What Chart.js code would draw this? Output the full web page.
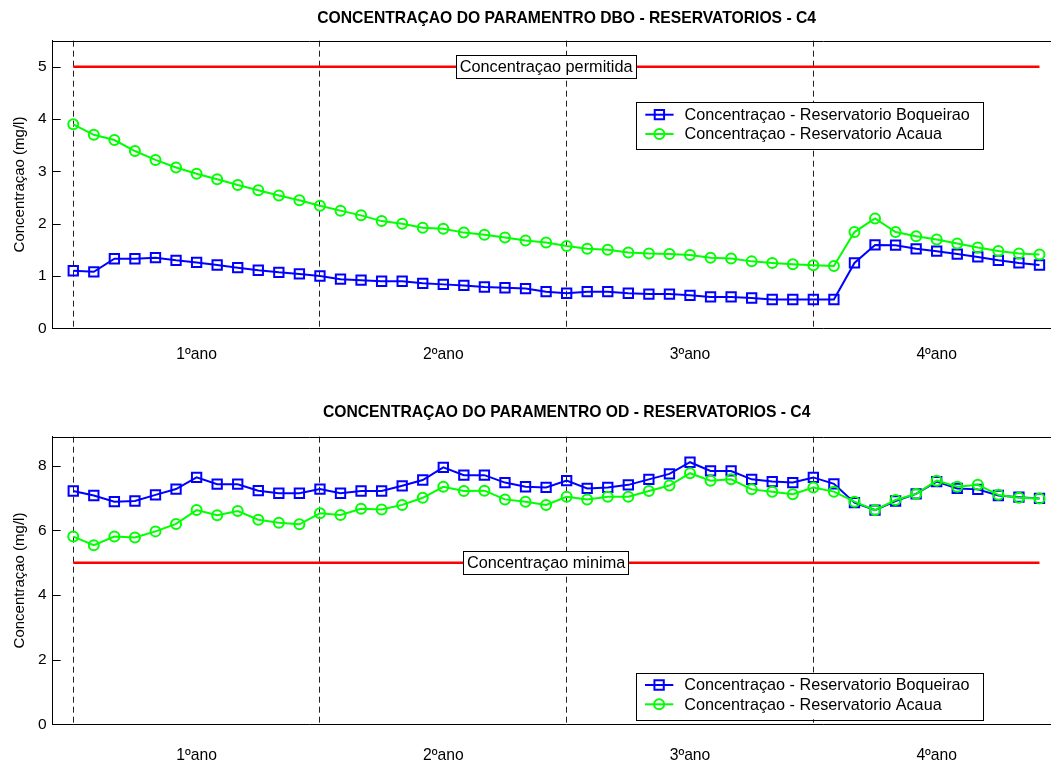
<!DOCTYPE html>
<html>
<head>
<meta charset="utf-8">
<title>Concentraçao DBO / OD - Reservatorios - C4</title>
<script src="https://cdn.jsdelivr.net/npm/chart.js@4/dist/chart.umd.min.js"></script>
<style>
  html, body { margin: 0; padding: 0; background: #fff; overflow: hidden; }
  canvas { position: absolute; left: 0; }
  #dbo { top: 0; }
  #od { top: 396px; }
</style>
</head>
<body>
<canvas id="dbo" width="1100" height="380"></canvas>
<canvas id="od" width="1100" height="380"></canvas>
<script>
// Leituras mensais (4 anos x 12 meses) - cenario C4

const dboBoqueirao = [1.10, 1.08, 1.33, 1.33, 1.35, 1.30, 1.26, 1.21, 1.16, 1.11, 1.07, 1.04,
                      1.00, 0.94, 0.92, 0.90, 0.90, 0.86, 0.84, 0.82, 0.79, 0.775, 0.76, 0.70,
                      0.67, 0.70, 0.70, 0.67, 0.655, 0.655, 0.63, 0.60, 0.60, 0.58, 0.55, 0.55,
                      0.55, 0.55, 1.25, 1.595, 1.59, 1.52, 1.475, 1.42, 1.365, 1.30, 1.25, 1.21];

const dboAcaua = [3.90, 3.70, 3.60, 3.39, 3.22, 3.075, 2.955, 2.85, 2.74, 2.64, 2.54, 2.45,
                  2.345, 2.25, 2.16, 2.05, 2.00, 1.925, 1.905, 1.83, 1.79, 1.735, 1.68, 1.64,
                  1.575, 1.52, 1.50, 1.45, 1.43, 1.42, 1.40, 1.35, 1.335, 1.28, 1.25, 1.225,
                  1.205, 1.19, 1.84, 2.10, 1.84, 1.76, 1.70, 1.62, 1.545, 1.48, 1.43, 1.41];

const odBoqueirao = [7.22, 7.08, 6.89, 6.91, 7.10, 7.28, 7.64, 7.43, 7.43, 7.23, 7.15, 7.15,
                     7.28, 7.15, 7.22, 7.22, 7.38, 7.56, 7.95, 7.71, 7.71, 7.48, 7.35, 7.33,
                     7.54, 7.30, 7.33, 7.41, 7.58, 7.75, 8.11, 7.84, 7.84, 7.58, 7.51, 7.48,
                     7.64, 7.44, 6.86, 6.63, 6.91, 7.13, 7.51, 7.30, 7.27, 7.08, 7.03, 6.99];

const odAcaua = [5.81, 5.54, 5.81, 5.78, 5.97, 6.20, 6.63, 6.47, 6.60, 6.33, 6.24, 6.19,
                 6.53, 6.48, 6.67, 6.65, 6.79, 7.01, 7.35, 7.22, 7.23, 6.96, 6.89, 6.79,
                 7.04, 6.96, 7.04, 7.04, 7.22, 7.39, 7.77, 7.54, 7.58, 7.27, 7.20, 7.12,
                 7.33, 7.20, 6.89, 6.63, 6.94, 7.13, 7.54, 7.35, 7.41, 7.10, 7.01, 6.99];

const meses = dboBoqueirao.map((_, i) => i);

// divisao entre os anos e posicao dos rotulos
const inicioAno = [0, 12, 24, 36];
const meioAno = [6, 18, 30, 42];
const nomesAno = ['1ºano', '2ºano', '3ºano', '4ºano'];

const ticksDbo = [0, 1, 2, 3, 4, 5];
const ticksOd = [0, 2, 4, 6, 8];

const limiteDbo = 5;   // concentraçao permitida
const limiteOd = 5;    // concentraçao minima

const FONTE = '"Liberation Sans", Arial, Helvetica, sans-serif';
Chart.defaults.font.family = FONTE;
Chart.defaults.color = '#000';

const pontos = serie => meses.map((m, i) => ({ x: m, y: serie[i] }));

// caixa de legenda no estilo do matlab, dentro dos eixos
const legendaCaixa = {
  id: 'legendaCaixa',
  afterDraw(chart, args, o) {
    const { ctx, chartArea: a } = chart;
    const series = chart.data.datasets.filter(d => d.naLegenda);
    ctx.save();
    ctx.font = '16.2px ' + FONTE;
    const larg = 48.6 + Math.max(...series.map(d => ctx.measureText(d.label).width)) + 13;
    const alt = 46.6;
    const x0 = a.left + o.left;
    const y0 = o.top != null ? a.top + o.top : a.bottom - o.bottom - alt;
    ctx.fillStyle = '#fff';
    ctx.fillRect(x0, y0, larg, alt);
    ctx.strokeStyle = '#000';
    ctx.lineWidth = 1;
    ctx.strokeRect(Math.round(x0) + 0.5, Math.round(y0) + 0.5, Math.round(larg), Math.round(alt));
    series.forEach((d, i) => {
      const cy = y0 + 12.3 + i * 19.3;
      ctx.strokeStyle = d.borderColor;
      ctx.lineWidth = d.borderWidth;
      ctx.beginPath();
      ctx.moveTo(x0 + 9.3, cy);
      ctx.lineTo(x0 + 37.6, cy);
      ctx.stroke();
      const cx = x0 + 23.4;
      ctx.lineWidth = d.pointBorderWidth;
      ctx.beginPath();
      if (d.pointStyle === 'rect') {
        const s = d.pointRadius * Math.SQRT1_2;
        ctx.rect(cx - s, cy - s, 2 * s, 2 * s);
      } else {
        ctx.arc(cx, cy, d.pointRadius, 0, Math.PI * 2);
      }
      ctx.stroke();
      ctx.fillStyle = '#000';
      ctx.textBaseline = 'middle';
      ctx.textAlign = 'left';
      ctx.fillText(d.label, x0 + 48.6, cy + 1);
    });
    ctx.restore();
  }
};

// texto com caixa sobre a linha de limite
const rotuloLimite = {
  id: 'rotuloLimite',
  afterDatasetsDraw(chart, args, o) {
    const { ctx, scales: { x, y } } = chart;
    const px = x.getPixelForValue(o.x);
    const py = y.getPixelForValue(o.y);
    ctx.save();
    ctx.font = '16.3px ' + FONTE;
    const w = ctx.measureText(o.texto).width + 7;
    const h = 23;
    const l = Math.round(px - w / 2) + 0.5, t = Math.round(py - h / 2) + 0.5;
    ctx.fillStyle = '#fff';
    ctx.fillRect(l, t, w, h);
    ctx.strokeStyle = '#000';
    ctx.lineWidth = 1;
    ctx.strokeRect(l, t, Math.round(w), h);
    ctx.fillStyle = '#000';
    ctx.textAlign = 'center';
    ctx.textBaseline = 'middle';
    ctx.fillText(o.texto, px, py + 1);
    ctx.restore();
  }
};

// moldura superior e marcas internas do eixo y
const moldura = {
  id: 'moldura',
  afterDraw(chart) {
    const { ctx, chartArea: a, scales: { y } } = chart;
    ctx.save();
    ctx.strokeStyle = '#000';
    ctx.lineWidth = 1;
    ctx.beginPath();
    ctx.moveTo(a.left, Math.round(a.top) + 0.5);
    ctx.lineTo(a.right, Math.round(a.top) + 0.5);
    y.ticks.forEach(t => {
      const py = Math.round(y.getPixelForValue(t.value)) + 0.5;
      ctx.moveTo(a.left, py);
      ctx.lineTo(a.left + 8, py);
      ctx.moveTo(a.right, py);
      ctx.lineTo(a.right - 8, py);
    });
    ctx.stroke();
    ctx.restore();
  }
};

function grafico(id, cfg) {
  const marcasX = [...inicioAno, ...meioAno].sort((a, b) => a - b);
  return new Chart(document.getElementById(id), {
    type: 'line',
    data: {
      datasets: [
        {
          label: 'Concentraçao - Reservatorio Boqueirao',
          data: pontos(cfg.boqueirao),
          naLegenda: true,
          borderColor: '#0000ff',
          borderWidth: 2,
          pointStyle: 'rect',
          pointRadius: 6.6,
          pointBorderWidth: 2,
          pointBorderColor: '#0000ff',
          pointBackgroundColor: 'rgba(0,0,0,0)',
          order: 2
        },
        {
          label: 'Concentraçao - Reservatorio Acaua',
          data: pontos(cfg.acaua),
          naLegenda: true,
          borderColor: '#00ff00',
          borderWidth: 2,
          pointStyle: 'circle',
          pointRadius: 5,
          pointBorderWidth: 2,
          pointBorderColor: '#00ff00',
          pointBackgroundColor: 'rgba(0,0,0,0)',
          order: 1
        },
        {
          label: cfg.textoLimite,
          data: [{ x: meses[0], y: cfg.limite }, { x: meses[meses.length - 1], y: cfg.limite }],
          borderColor: '#ff0000',
          borderWidth: 2.5,
          pointRadius: 0,
          order: 3
        }
      ]
    },
    options: {
      responsive: false,
      animation: false,
      events: [],
      layout: { padding: { left: 0, right: 19.4, top: 0, bottom: 0 } },
      plugins: {
        legend: { display: false },
        tooltip: { enabled: false },
        title: {
          display: true,
          text: cfg.titulo,
          fullSize: false,
          color: '#000',
          font: { size: 15.7, weight: 'bold' },
          padding: cfg.tituloPad
        },
        legendaCaixa: cfg.legenda,
        rotuloLimite: { x: 23, y: cfg.limite, texto: cfg.textoLimite }
      },
      scales: {
        x: {
          type: 'linear',
          min: -1,
          max: 49,
          afterBuildTicks: s => { s.ticks = marcasX.map(v => ({ value: v })); },
          afterFit: s => { s.height = 51.7; },
          grid: {
            drawTicks: false,
            lineWidth: 1,
            color: c => (c.tick && inicioAno.includes(c.tick.value)) ? '#222' : 'rgba(0,0,0,0)'
          },
          border: { color: '#000', dash: [6, 4] },
          ticks: {
            autoSkip: false,
            maxRotation: 0,
            padding: cfg.xPad,
            font: { size: 15.7 },
            callback: v => { const k = meioAno.indexOf(v); return k >= 0 ? nomesAno[k] : ''; }
          }
        },
        y: {
          min: 0,
          max: cfg.yMax,
          afterBuildTicks: s => { s.ticks = cfg.yTicks.map(v => ({ value: v })); },
          afterFit: s => { s.width = 52.7; },
          grid: { display: false, tickLength: 0 },
          border: { color: '#000' },
          ticks: { padding: 6, font: { size: 15.5 } },
          title: {
            display: true,
            text: 'Concentraçao (mg/l)',
            font: { size: 15 },
            padding: { top: 11, bottom: 0 }
          }
        }
      }
    },
    plugins: [moldura, rotuloLimite, legendaCaixa]
  });
}

grafico('dbo', {
  titulo: 'CONCENTRAÇAO DO PARAMENTRO DBO - RESERVATORIOS - C4',
  tituloPad: { top: 9.6, bottom: 12.26 },
  boqueirao: dboBoqueirao,
  acaua: dboAcaua,
  limite: limiteDbo,
  textoLimite: 'Concentraçao permitida',
  yMax: 5.5,
  yTicks: ticksDbo,
  xPad: 16.5,
  legenda: { left: 583.3, top: 61.7 }
});

grafico('od', {
  titulo: 'CONCENTRAÇAO DO PARAMENTRO OD - RESERVATORIOS - C4',
  tituloPad: { top: 7.4, bottom: 14.46 },
  boqueirao: odBoqueirao,
  acaua: odAcaua,
  limite: limiteOd,
  textoLimite: 'Concentraçao minima',
  yMax: 8.9,
  yTicks: ticksOd,
  xPad: 21.5,
  legenda: { left: 583, bottom: 5 }
});
</script>
</body>
</html>
